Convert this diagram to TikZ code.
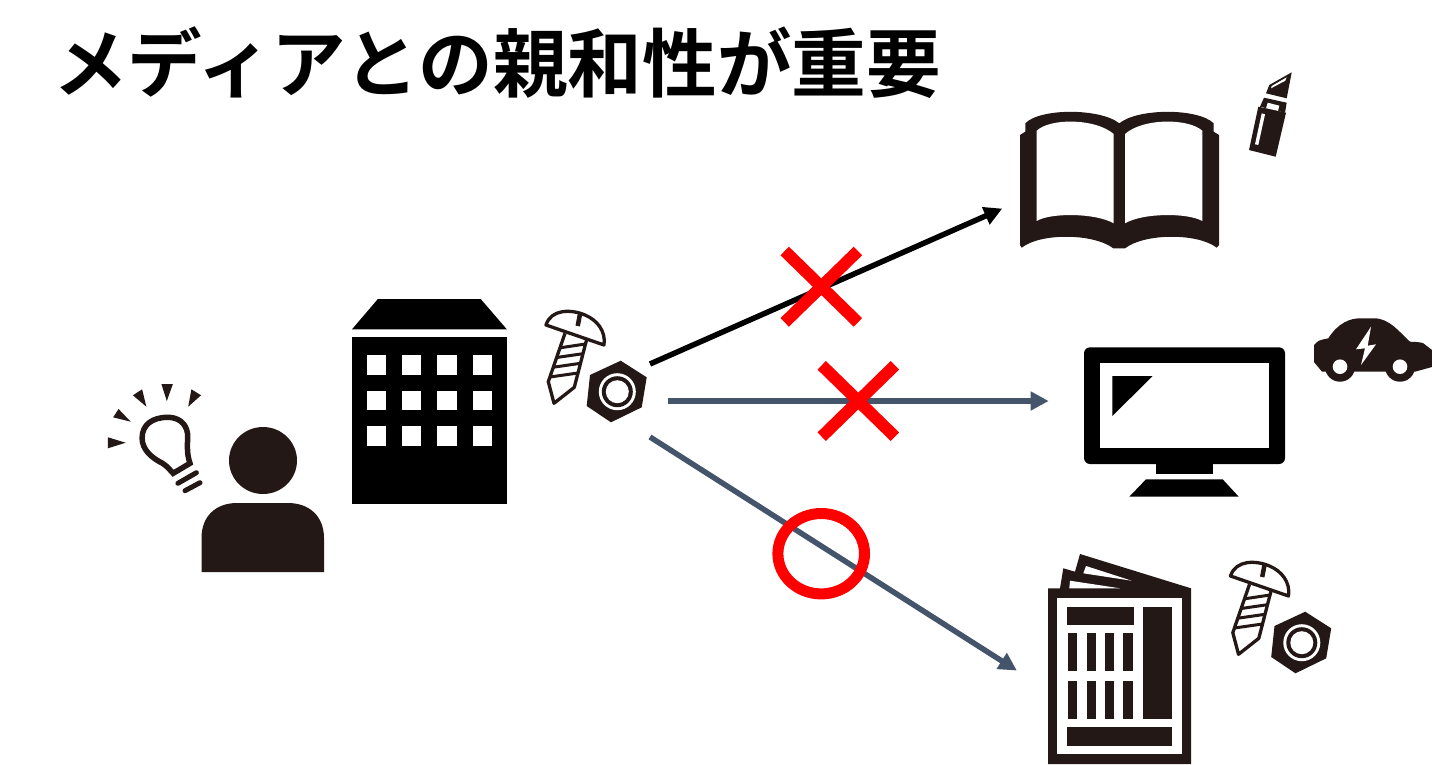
\documentclass[tikz,border=0pt]{standalone}
\usepackage{fontspec}
\usetikzlibrary{arrows.meta}
\newfontfamily\cjk{Noto Sans CJK JP}[BoldFont={Noto Sans CJK JP Bold}]
\definecolor{iconblack}{HTML}{231815}
\definecolor{slateblue}{HTML}{44546A}
\tikzstyle{icon} = [fill=iconblack]
\tikzstyle{solid black} = [fill=black]
\tikzstyle{hole} = [fill=white]
\tikzstyle{outline} = [draw=iconblack, line width=3.3pt, fill=white, line join=round]
\tikzstyle{route} = [line width=5.5pt, -{Triangle[length=18pt, width=18pt, inset=0pt]}, shorten >=-1pt]
\tikzstyle{crossbar} = [red, line width=12pt]
\tikzset{
  screwnut/.pic={
    \path[icon] (5.7,-30.3) -- (31.7,-13.7) -- (26.7,16.3) -- (-4,31.3) -- (-28.3,15) -- (-25,-16) -- cycle;
    \path[hole] (2.3,0.7) circle[radius=18.5];
    \path[icon] (2.3,0.7) circle[radius=15.5];
    \path[hole] (2.3,0.7) circle[radius=11.5];
    \draw[outline] (-50,-57.7) -- (-66.7,-9.3) -- (-61,12.3) -- (-40.7,-3.7) -- (-28.3,-51.7);
    \foreach \la/\lb/\ra/\rb in {-55/-43.2/-29.5/-47, -58.4/-33.5/-32/-37.3, -61.7/-23.8/-34.5/-27.7, -65/-14/-37/-18}
      \draw[iconblack, line width=3pt] (\la,\lb) -- (\ra,\rb);
    \draw[outline] (-69,-66) .. controls (-64,-82) and (-44,-82) .. (-30,-76) .. controls (-18,-71) and (-9,-60) .. (-11,-46) -- cycle;
    \draw[iconblack, line width=4.5pt] (-35,-77) -- (-37.3,-65);
  }
}

\begin{document}
\begin{tikzpicture}[x=1pt, y=-1pt]
  \useasboundingbox (0,0) rectangle (1432,764);
  \node[anchor=center, inner sep=0pt] (title) at (497,63) {\cjk\bfseries\fontsize{74.6}{80}\selectfont メディアとの親和性が重要};

  \path[icon] (263,460.5) circle[x radius=34, y radius=33.5];
  \path[icon] (201.5,572) -- (201.5,538) .. controls (201.5,516) and (216,503) .. (237,503) -- (288,503) .. controls (309,503) and (324,516) .. (324,538) -- (324,572) -- cycle;
  \draw[iconblack, line width=5.5pt] (190,463.3) .. controls (186,452) and (188,443) .. (187.5,433.3) .. controls (186,423) and (178,417.3) .. (167.9,417.3) .. controls (152,417.3) and (142.1,425) .. (142.1,438) .. controls (142.1,450) and (152,458) .. (162.5,463.3) .. controls (167,466) and (170,470) .. (173.2,473.3) -- cycle;
  \draw[iconblack, line width=5pt, line cap=round] (177.9,483.3) -- (196.4,472.7);
  \draw[iconblack, line width=5pt, line cap=round] (185,490.7) -- (200,482.7);
  \path[icon] (107.9,437.3) -- (107.9,448.3) -- (125.7,442.7) -- cycle;
  \path[icon] (118.6,409) -- (113.2,417.3) -- (130.7,421.7) -- cycle;
  \path[icon] (142.1,389.3) -- (132.9,395.3) -- (146.4,406.7) -- cycle;
  \path[icon] (161.4,384) -- (172.9,384) -- (166.8,401) -- cycle;
  \path[icon] (191.4,389.3) -- (201,395.3) -- (188.2,406.7) -- cycle;

  \path[solid black] (377.9,299) -- (480.7,299) -- (506.8,329.3) -- (352,329.3) -- cycle;
  \path[solid black] (352,337.3) rectangle (507,503.7);
  \foreach \wx in {367,402,437.3,472.6}
    \foreach \wy in {355,390.7,426}
      \path[hole] (\wx,\wy) rectangle ++(19.4,19.5);

  \pic at (615,391) {screwnut};
  \pic at (1299.5,642) {screwnut};

  \path[icon] (1020,245) -- (1020,135) -- (1025.3,131.7) -- (1025.3,123.3) .. controls (1040,108) and (1100,108) .. (1119.3,123.3) .. controls (1138,108) and (1198,108) .. (1213.7,123.3) -- (1213.7,131.7) -- (1219,135) -- (1219,245) -- (1216.7,247.7) .. controls (1198,233) and (1145,233) .. (1125,248.3) -- (1113.3,248.3) .. controls (1093,233) and (1040,233) .. (1021.7,247.7) -- cycle;
  \path[hole] (1036.7,130.7) .. controls (1050,118) and (1095,118) .. (1113.7,134) -- (1113.7,223.3) .. controls (1095,212.7) and (1050,212.7) .. (1036.7,221) -- cycle;
  \path[hole] (1125,134) .. controls (1143,118) and (1188,118) .. (1202.3,130.7) -- (1202.3,221) .. controls (1188,212.7) and (1143,212.7) .. (1125,223.3) -- cycle;

  \path[icon] (1269.3,85) -- (1291.7,72.3) -- (1286.7,98.3) -- (1266,93.3) -- cycle;
  \path[hole] (1271.7,86) -- (1286.7,77.3) -- (1285.3,80.7) -- (1271,88.3) -- cycle;
  \path[icon] (1264,97.7) -- (1286.7,102.7) -- (1285,112.7) -- (1260,106.7) -- cycle;
  \path[hole] (1267.7,102.7) -- (1279.3,105.7) -- (1278,111) -- (1266,108.3) -- cycle;
  \path[icon] (1258.3,106.7) -- (1286,112.7) -- (1275.7,156.7) -- (1249,150) -- cycle;
  \path[hole] (1261.7,113.3) -- (1265,114.3) -- (1258.3,145) -- (1255,144.3) -- cycle;

  \path[solid black, rounded corners=6pt] (1084,347.3) rectangle (1285,464);
  \path[hole] (1100,362.7) rectangle (1269,448);
  \path[solid black] (1112.3,376) -- (1152.7,376) -- (1112.3,416) -- cycle;
  \path[solid black] (1155.7,463) rectangle (1213.3,474.3);
  \path[solid black] (1146,479.3) -- (1222.7,479.3) -- (1238.7,496.7) -- (1129.3,496.7) -- cycle;

  \path[icon] (1314,362) -- (1314,345) -- (1318.3,341) .. controls (1322,339.5) and (1325,339) .. (1328.3,338.3) .. controls (1338,323) and (1350,318.3) .. (1360,318.3) -- (1374,318.3) .. controls (1390,318.3) and (1400,333) .. (1410,341.7) .. controls (1416,342) and (1420,342) .. (1423.3,343.3) -- (1432,350) -- (1432,367) -- (1415,371.7) -- (1322,371.7) -- cycle;
  \foreach \wheelx in {1340,1400} {
    \path[icon] (\wheelx,366.7) circle[radius=15];
    \path[hole] (\wheelx,366.7) circle[radius=7.3];
  }
  \path[hole] (1371,326.7) -- (1356,349.3) -- (1365,348.3) -- (1361,365) -- (1376,344.3) -- (1367.7,345.7) -- cycle;

  \path[icon] (1048,588.3) -- (1060,588.3) -- (1063.3,568.3) -- (1075,571.7) -- (1080,554) -- (1191,588.3) -- (1191,764) -- (1048,764) -- cycle;
  \path[hole] (1070,580.7) -- (1120,588.3) -- (1069.3,588.3) -- cycle;
  \path[hole] (1086,566) -- (1131.7,580.7) -- (1083.3,573.3) -- cycle;
  \path[hole] (1057.3,597.7) rectangle (1181.7,754);
  \path[icon] (1067.3,606.7) rectangle (1134.3,625);
  \path[icon] (1142.7,606.7) rectangle (1171.7,719);
  \path[icon] (1067.3,727) rectangle (1171.7,745.7);
  \foreach \colx in {1068,1086.7,1105,1123.3}
    \foreach \coly in {633.3,681.3}
      \path[icon] (\colx,\coly) rectangle ++(9.3,37.7);

  \coordinate (nut_top) at (650,364);
  \coordinate (nut_mid) at (668,401);
  \coordinate (nut_low) at (650,437);
  \coordinate (book_in) at (1001.3,209);
  \coordinate (monitor_in) at (1047.7,401);
  \coordinate (paper_in) at (1016,670);
  \draw[route, black] (nut_top) -- (book_in);
  \draw[route, slateblue] (nut_mid) -- (monitor_in);
  \draw[route, slateblue] (nut_low) -- (paper_in);

  \foreach \cx/\cy in {821.3/286.7, 858.3/401} {
    \draw[crossbar] (\cx-36.6,\cy-35.7) -- (\cx+36.6,\cy+35.7);
    \draw[crossbar] (\cx+36.6,\cy-35.7) -- (\cx-36.6,\cy+35.7);
  }
  \draw[red, line width=11pt] (821.2,553.7) circle[x radius=43.3, y radius=40.2];
\end{tikzpicture}
\end{document}
